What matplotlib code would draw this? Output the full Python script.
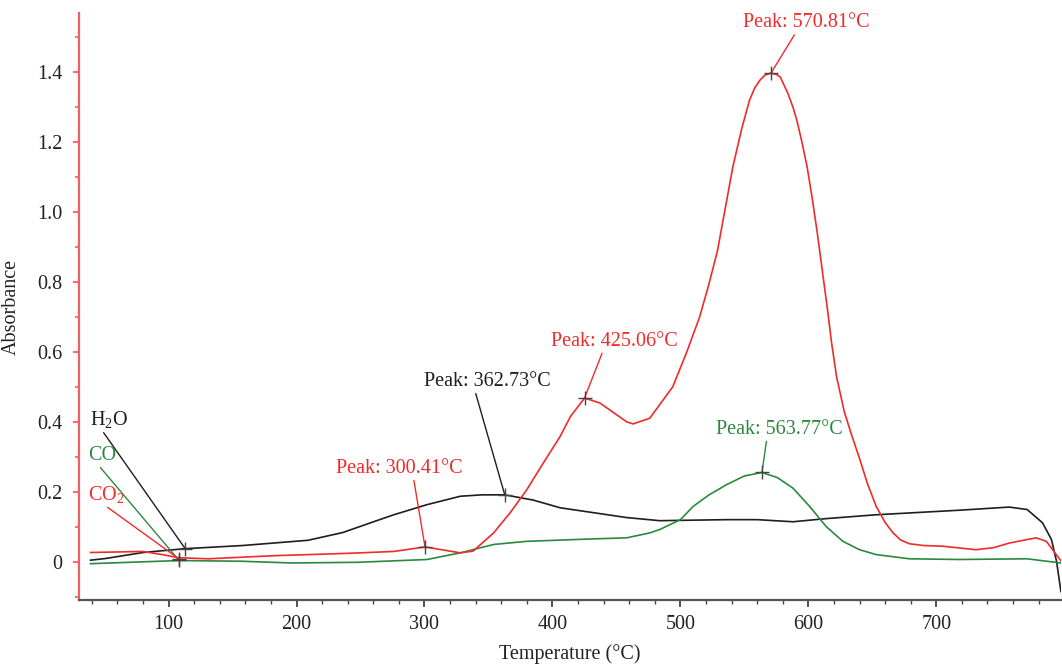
import matplotlib
matplotlib.use('Agg')
import matplotlib.pyplot as plt
from matplotlib.ticker import MultipleLocator
import numpy as np

plt.rcParams['font.family'] = ['Liberation Serif', 'DejaVu Serif']
plt.rcParams['mathtext.fontset'] = 'custom'
plt.rcParams['mathtext.rm'] = 'Liberation Serif'
plt.rcParams['mathtext.it'] = 'Liberation Serif:italic'

# H2O (black)
h2o_T = [39, 51, 80, 113, 158, 209, 236, 261, 276, 302, 328, 345, 362.7, 385, 406, 432, 458,
         484, 500, 536, 560, 588, 614, 653, 718, 757, 771, 783, 790, 794, 797.4]
h2o_A = [0.004, 0.009, 0.026, 0.037, 0.046, 0.061, 0.083, 0.115, 0.134, 0.163, 0.187, 0.191, 0.191,
         0.176, 0.154, 0.140, 0.126, 0.117, 0.118, 0.120, 0.120, 0.114, 0.123, 0.134, 0.147,
         0.156, 0.149, 0.111, 0.063, 0.0, -0.086]

# CO2 (red)
co2_T = [39, 80, 95, 108, 131, 183, 235, 250, 276, 300.4, 315, 328, 338, 354, 367, 380, 393,
         406, 414, 425.1, 437, 458, 463, 476, 484, 494, 505, 515, 522, 529, 535, 541, 548, 554,
         558, 562, 566, 570.8, 575, 578, 584, 588, 591, 595, 599, 603, 607, 611, 615, 618, 622,
         628, 634, 640, 646, 653, 660, 666, 672, 679, 690, 705, 731, 745, 757, 768, 778, 786,
         797.4]
co2_A = [0.026, 0.029, 0.020, 0.011, 0.008, 0.017, 0.023, 0.025, 0.029, 0.042, 0.033, 0.025,
         0.030, 0.082, 0.140, 0.206, 0.283, 0.358, 0.415, 0.468, 0.454, 0.400, 0.394, 0.410,
         0.450, 0.500, 0.600, 0.700, 0.790, 0.890, 1.010, 1.130, 1.240, 1.320, 1.355, 1.377,
         1.392, 1.398, 1.394, 1.387, 1.340, 1.300, 1.263, 1.200, 1.130, 1.040, 0.940, 0.830,
         0.720, 0.630, 0.530, 0.430, 0.360, 0.295, 0.225, 0.158, 0.112, 0.083, 0.062, 0.051,
         0.046, 0.044, 0.034, 0.040, 0.053, 0.061, 0.068, 0.058, 0.002]

# CO (green)
co_T = [39, 108, 157, 196, 248, 302, 328, 354, 380, 432, 458, 476, 484, 500, 510, 522, 536,
        550, 563.8, 576, 588, 601, 614, 627, 640, 653, 679, 718, 771, 797.4]
co_A = [-0.006, 0.003, 0.001, -0.004, -0.002, 0.006, 0.025, 0.049, 0.058, 0.065, 0.068, 0.082,
        0.092, 0.120, 0.158, 0.190, 0.220, 0.245, 0.255, 0.240, 0.210, 0.158, 0.100, 0.058,
        0.034, 0.020, 0.008, 0.006, 0.008, -0.004]

# annotated points
ann_T = [570.81, 425.06, 362.73, 300.41, 563.77, 113, 108, 108]
ann_A = [1.398, 0.468, 0.191, 0.042, 0.255, 0.037, 0.004, 0.008]
ann_text = ['Peak: 570.81°C', 'Peak: 425.06°C', 'Peak: 362.73°C', 'Peak: 300.41°C',
            'Peak: 563.77°C', 'H$_2$O', 'CO', 'CO$_2$']

RED = '#f22a2a'
GREEN = '#2a8a3c'
BLACK = '#1e1e1e'
ann_col = [RED, RED, BLACK, RED, GREEN, BLACK, GREEN, RED]
# text placement (left/bottom in data coords) and where the leader meets the text
ann_xytext = [(548.8, 1.515), (399, 0.604), (299.8, 0.489), (231, 0.240), (527.9, 0.352),
              (38.8, 0.377), (37.2, 0.277), (37.2, 0.163)]
ann_rel = [(0.42, 0), (0.41, 0), (0.40, 0), (0.61, 0), (0.40, 0), (0.30, 0), (0.35, 0), (0.35, 0.1)]

fig = plt.figure(figsize=(10.62, 6.65), dpi=100)
ax = fig.add_axes([0.0744, 0.0977, 0.9246, 0.8828])

ax.plot(h2o_T, h2o_A, color=BLACK, lw=1.2)
ax.plot(co_T, co_A, color=GREEN, lw=1.2)
ax.plot(co2_T, co2_A, color=RED, lw=1.2)

for i in range(len(ann_T)):
    ax.annotate(ann_text[i], xy=(ann_T[i], ann_A[i]), xytext=ann_xytext[i],
                textcoords='data', ha='left', va='bottom', fontsize=14.5, color=ann_col[i],
                arrowprops=dict(arrowstyle='-', color=ann_col[i], lw=1.0,
                                shrinkA=0, shrinkB=0, relpos=ann_rel[i]))
ax.plot(ann_T, ann_A, ls='none', marker='+', ms=10, mew=1.0, color='#444444', zorder=5)

ax.set_xlim(30, 797.4)
ax.set_ylim(-0.11, 1.57)
ax.xaxis.set_major_locator(MultipleLocator(100))
ax.xaxis.set_minor_locator(MultipleLocator(20))
ax.yaxis.set_minor_locator(MultipleLocator(0.1))
ax.set_yticks(np.arange(0, 1.41, 0.2))
ax.set_yticklabels(['0', '0.2', '0.4', '0.6', '0.8', '1.0', '1.2', '1.4'])

for s in ['top', 'right']:
    ax.spines[s].set_visible(False)
ax.spines['left'].set_color('#f06060')
ax.spines['left'].set_linewidth(1.6)
ax.spines['bottom'].set_color('#555555')
ax.spines['bottom'].set_linewidth(1.6)

ax.tick_params(axis='y', which='both', colors='#f06060', labelcolor='#222222', labelsize=14.5)
ax.tick_params(axis='y', which='major', length=4, width=1.3, pad=8)
ax.tick_params(axis='y', which='minor', length=3, width=1.2)
ax.tick_params(axis='x', which='both', colors='#444444', labelcolor='#222222', labelsize=14.5)
ax.tick_params(axis='x', which='major', length=5, width=1.3, pad=6)
ax.tick_params(axis='x', which='minor', length=3, width=1.0)

ax.set_xlabel('Temperature (°C)', fontsize=14.5, color='#222222', labelpad=7)
ax.set_ylabel('Absorbance', fontsize=14.5, color='#222222', labelpad=12)

plt.savefig('out.png', dpi=100)
